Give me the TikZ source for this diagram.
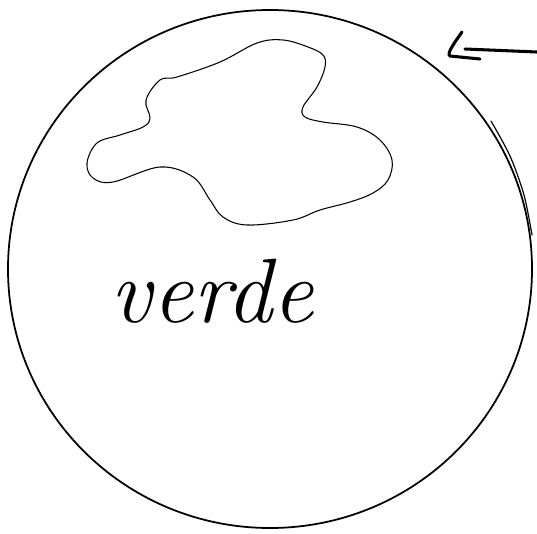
\documentclass[tikz,border=0pt]{standalone}
\usepackage{tikz}
\usetikzlibrary{calc}

\begin{document}
\begin{tikzpicture}[x=0.03cm, y=-0.03cm, pen/.style={line width=1.5pt,line cap=round}, blob/.style={line width=0.9pt,line cap=round}, word/.style={font=\fontsize{78}{78}\selectfont\itshape,anchor=base,inner sep=0pt}]
\useasboundingbox (0,0) rectangle (537,533);
% planet outline
\draw[pen] (270,269) ellipse [x radius=262, y radius=259];
\draw[pen,line width=1pt] plot[smooth] coordinates {(491,121) (510,156) (524,195) (532,235)};
% the patch
\draw[blob] plot[smooth cycle, tension=0.6] coordinates {(177,77) (220,62) (257,43) (283,40) (308,47) (323,55) (325,67) (317,87) (303,107) (305,117) (323,122) (357,127) (380,140) (392,160) (388,180) (373,193) (350,202) (320,210) (293,220) (247,225) (223,217) (210,200) (193,177) (160,167) (113,182) (93,178) (87,163) (97,143) (120,135) (143,127) (150,118) (146,100) (160,80)};
% label
\node[word] (label) at (212,322) {verde};
% arrow
\coordinate (tail) at (537,52);
\coordinate (tip) at (465,49);
\draw[pen,line width=2.6pt] (tail) -- (tip);
\draw[pen,line width=2.6pt] (462,32) .. controls (455,42) and (446,54) .. (450,56) -- (480,59);
\end{tikzpicture}
\end{document}
